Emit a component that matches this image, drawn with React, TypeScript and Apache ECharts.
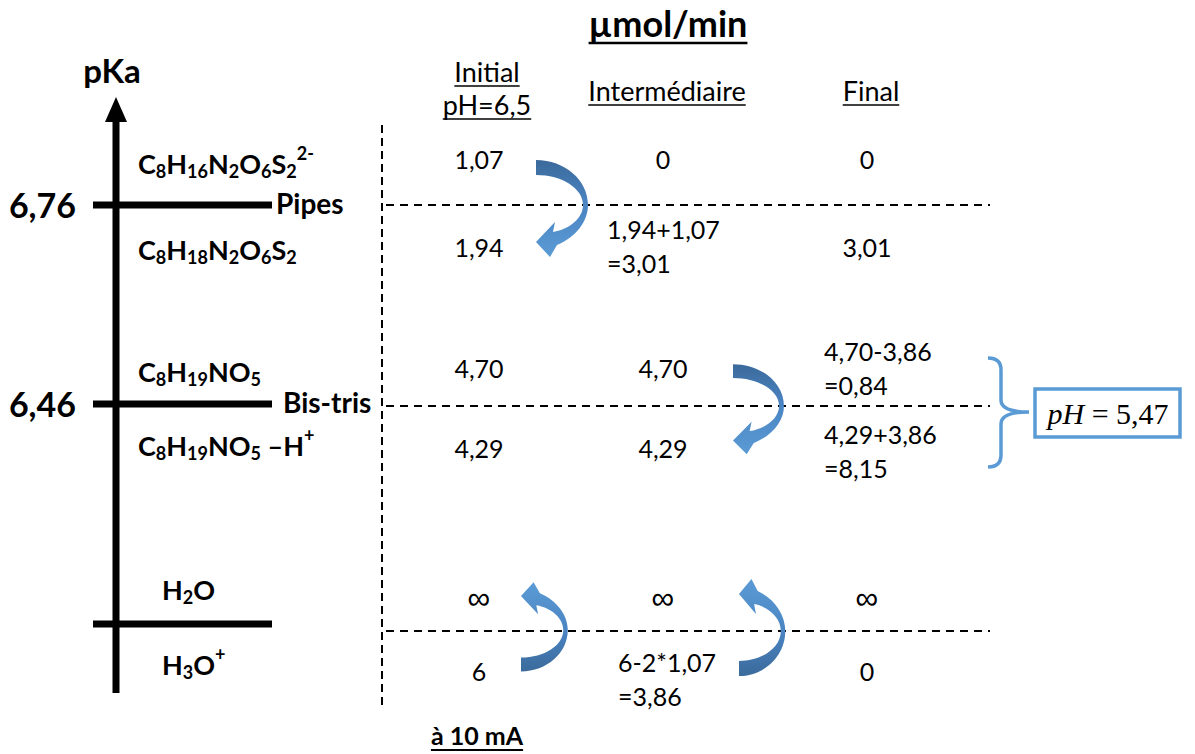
import React, { useEffect, useRef } from "react";
import * as echarts from "echarts";

// ---------------- data ----------------
const chartTitle = "µmol/min";
const axisName = "pKa";
const pKaLabels = ["6,76", "6,46"];
const bufferNames = ["Pipes", "Bis-tris"];
const columnHeaders = [["Initial", "pH=6,5"], ["Intermédiaire"], ["Final"]];
const species = [
  "C_{8}H_{16}N_{2}O_{6}S_{2}^{2-}",
  "C_{8}H_{18}N_{2}O_{6}S_{2}",
  "C_{8}H_{19}NO_{5}",
  "C_{8}H_{19}NO_{5} –H^{+}",
  "H_{2}O",
  "H_{3}O^{+}",
];
const initialValues = ["1,07", "1,94", "4,70", "4,29", "∞", "6"];
const intermediateValues = ["0", "1,94+1,07\n=3,01", "4,70", "4,29", "∞", "6-2*1,07\n=3,86"];
const finalValues = ["0", "3,01", "4,70-3,86\n=0,84", "4,29+3,86\n=8,15", "∞", "0"];
const resultLabel = ["pH", "= 5,47"];
const currentLabel = "à 10 mA";

// ---------------- layout ----------------
const FONT = "Lato, 'Open Sans', sans-serif";
const SERIF = "'Liberation Serif', 'DejaVu Serif', serif";
const BLUE = "#5B9BD5";
const axisX = 116;
const levelLineY = [205, 404, 624];
const tableLineY = [205, 406, 631];
const rowY = [159, 247, 368, 448, 600, 671];
const multiShift = [0, -1, 0, 3, 0, 8];
const multiLeft: Record<string, number> = { "1-1": 607, "1-5": 618, "2-2": 824, "2-3": 824 };
const colX = [479, 663, 867];
const speciesX = [138, 138, 138, 138, 162, 162];
const speciesY = [163, 249, 371, 445, 589, 664];
const valueFont = 25;

const ARROW_D =
  "M0 -45 C28.7 -45 52 -24.9 52 0 C52 16.4 40 32 21 40 L14 52 L0 37 L19 17 L17 27 C34.6 23.9 47 12.6 47 0 C47 -16.6 26 -30 0 -30 Z";
const BRACE_D =
  "M988 358 Q1001 358 1001 370 L1001 400 Q1001 412 1029 412 Q1001 412 1001 424 L1001 455 Q1001 467 988 467";
echarts.graphic.registerShape("curvedArrow", echarts.graphic.extendPath(ARROW_D, {}));
echarts.graphic.registerShape("rightBrace", echarts.graphic.extendPath(BRACE_D, {}));

const arrowPlacements = [
  { x: 536, y: 205, sx: 1, sy: 1 },
  { x: 733, y: 406, sx: 0.98, sy: 0.93 },
  { x: 521, y: 630, sx: 0.9, sy: -0.92 },
  { x: 739, y: 631, sx: 0.89, sy: -1.0 },
];

function toRich(s: string) {
  let out = "";
  const re = /([_^])\{([^}]*)\}|([^_^]+)/g;
  let m: RegExpExecArray | null;
  while ((m = re.exec(s))) {
    if (m[1] === "_") out += `{sub|${m[2]}}`;
    else if (m[1] === "^") out += `{sup|${m[2]}}`;
    else out += `{m|${m[3]}}`;
  }
  return out;
}

let measureCtx: CanvasRenderingContext2D | null = null;
function textWidth(t: string, font: string) {
  if (!measureCtx) measureCtx = document.createElement("canvas").getContext("2d");
  measureCtx!.font = font;
  return measureCtx!.measureText(t).width;
}

function buildGraphic() {
  const g: any[] = [];
  const txt = (text: string, x: number, y: number, size: number, weight: string | number, align = "center", extra: any = {}) => ({
    type: "text",
    x,
    y,
    style: { text, fontSize: size, fontWeight: weight, fontFamily: FONT, fill: "#000", align, verticalAlign: "middle", ...extra },
  });
  const underline = (cx: number, y: number, w: number, lw: number) => ({
    type: "line",
    shape: { x1: cx - w / 2, y1: y, x2: cx + w / 2, y2: y },
    style: { stroke: "#000", lineWidth: lw },
  });

  // title
  g.push(txt(chartTitle, 668, 23, 36, "bold"));
  g.push(underline(668, 43, textWidth(chartTitle, `bold 36px ${FONT}`), 2.5));

  // pKa axis
  g.push(txt(axisName, 112, 70, 33, "bold"));
  g.push({ type: "line", shape: { x1: axisX, y1: 118, x2: axisX, y2: 693 }, style: { stroke: "#000", lineWidth: 7 } });
  g.push({ type: "polygon", shape: { points: [[105, 122], [127, 122], [116, 97]] }, style: { fill: "#000" } });
  levelLineY.forEach((y) => {
    g.push({ type: "line", shape: { x1: 93, y1: y, x2: 272, y2: y }, style: { stroke: "#000", lineWidth: 7 } });
  });
  pKaLabels.forEach((l, i) => g.push(txt(l, 76, levelLineY[i] - 1, 34, "bold", "right")));
  const bufferX = [276, 283];
  bufferNames.forEach((b, i) => g.push(txt(b, bufferX[i], levelLineY[i] - 2, 28, "bold", "left")));

  // species
  const rich = {
    m: { fontSize: 27, fontWeight: "bold", fontFamily: FONT, fill: "#000" },
    sub: { fontSize: 18, fontWeight: "bold", fontFamily: FONT, fill: "#000", padding: [16, 0, 0, 0] },
    sup: { fontSize: 18, fontWeight: "bold", fontFamily: FONT, fill: "#000", padding: [0, 0, 20, 0] },
  };
  species.forEach((s, i) => {
    g.push({
      type: "text",
      x: speciesX[i],
      y: speciesY[i],
      style: { text: toRich(s), rich, fill: "#000", align: "left", verticalAlign: "middle" },
    });
  });

  // separators
  g.push({ type: "line", shape: { x1: 382, y1: 125, x2: 382, y2: 710 }, style: { stroke: "#000", lineWidth: 2, lineDash: [8, 5] } });
  tableLineY.forEach((y) => {
    g.push({ type: "line", shape: { x1: 386, y1: y, x2: 990, y2: y }, style: { stroke: "#000", lineWidth: 2, lineDash: [8, 6] } });
  });

  // column headers
  const headerCX = [487, 667, 871];
  const headerFont = `27px ${FONT}`;
  columnHeaders.forEach((lines, c) => {
    const ys = lines.length === 2 ? [71, 104] : [90];
    lines.forEach((l, k) => {
      g.push(txt(l, headerCX[c], ys[k], 27, "normal"));
      g.push(underline(headerCX[c], ys[k] + 15, textWidth(l, headerFont), 1.5));
    });
  });

  // values
  const cols = [initialValues, intermediateValues, finalValues];
  cols.forEach((vals, c) => {
    vals.forEach((v, r) => {
      if (v.includes("\n")) {
        g.push(txt(v, multiLeft[`${c}-${r}`], rowY[r] + multiShift[r], valueFont, "normal", "left", { lineHeight: 34 }));
      } else if (v === "∞") {
        g.push(txt(v, colX[c], rowY[r] - 2, 32, "normal", "center", { fontFamily: "'Liberation Sans', sans-serif" }));
      } else {
        g.push(txt(v, colX[c], rowY[r], valueFont, "normal"));
      }
    });
  });

  // transfer arrows
  arrowPlacements.forEach((a) => {
    g.push({
      type: "curvedArrow",
      x: a.x,
      y: a.y,
      scaleX: a.sx,
      scaleY: a.sy,
      style: {
        fill: new echarts.graphic.LinearGradient(0, 0, 0, 1, [
          { offset: 0, color: "#3B6A9B" },
          { offset: 0.45, color: "#4A84C2" },
          { offset: 1, color: "#5B9BD5" },
        ]),
      },
    });
  });

  // brace + result box
  g.push({ type: "rightBrace", style: { fill: "none", stroke: BLUE, lineWidth: 3.5 } });
  g.push({ type: "rect", shape: { x: 1035, y: 389, width: 145, height: 48 }, style: { fill: "#fff", stroke: BLUE, lineWidth: 3.5 } });
  g.push({
    type: "text",
    x: 1108,
    y: 413,
    style: {
      text: `{i|${resultLabel[0]}}{r| ${resultLabel[1]}}`,
      rich: {
        i: { fontSize: 30, fontStyle: "italic", fontFamily: SERIF, fill: "#000" },
        r: { fontSize: 30, fontFamily: SERIF, fill: "#000" },
      },
      align: "center",
      verticalAlign: "middle",
    },
  });

  // current label
  g.push(txt(currentLabel, 477, 735, 25, "bold"));
  g.push(underline(477, 750, textWidth(currentLabel, `bold 25px ${FONT}`), 2));

  return g;
}

export default function App() {
  const ref = useRef<HTMLDivElement>(null);
  useEffect(() => {
    if (!ref.current) return;
    const chart = echarts.init(ref.current, undefined, { renderer: "svg" });
    chart.setOption({
      animation: false,
      backgroundColor: "#ffffff",
      graphic: { elements: buildGraphic() },
    });
    return () => chart.dispose();
  }, []);
  return <div ref={ref} style={{ position: "fixed", left: 0, top: 0, width: 1195, height: 754 }} />;
}
